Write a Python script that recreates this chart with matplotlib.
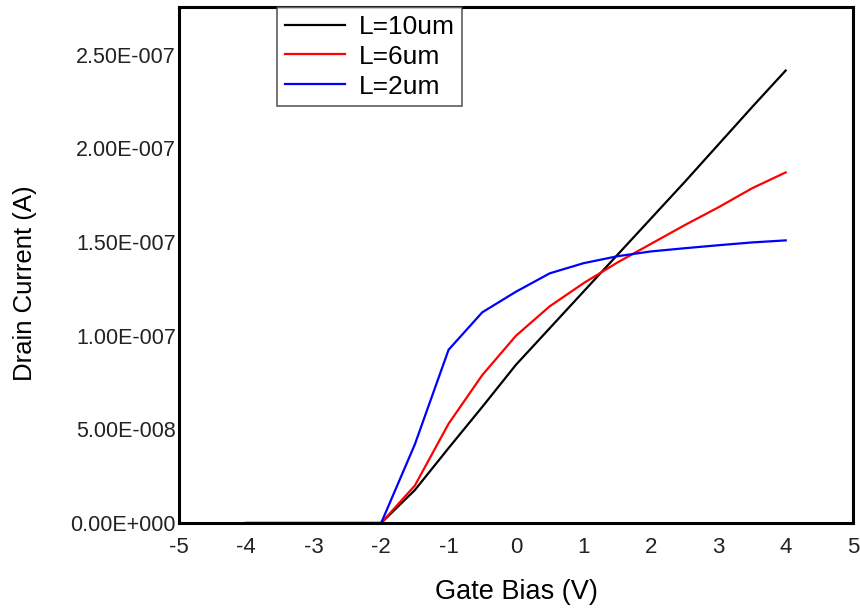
import matplotlib
matplotlib.use("Agg")
import matplotlib.pyplot as plt
from matplotlib.ticker import FuncFormatter

gate_bias = [-4, -3.5, -3, -2.5, -2, -1.5, -1, -0.5, 0, 0.5, 1, 1.5, 2, 2.5, 3, 3.5, 4]
i_10um = [0, 0, 0, 0, 0, 1.76e-8, 4.0e-8, 6.2e-8, 8.45e-8, 1.04e-7, 1.235e-7, 1.43e-7,
          1.625e-7, 1.82e-7, 2.02e-7, 2.22e-7, 2.416e-7]
i_6um = [0, 0, 0, 0, 0, 2.0e-8, 5.3e-8, 7.9e-8, 1.0e-7, 1.157e-7, 1.28e-7, 1.39e-7,
         1.49e-7, 1.59e-7, 1.685e-7, 1.787e-7, 1.872e-7]
i_2um = [0, 0, 0, 0, 0, 4.2e-8, 9.25e-8, 1.125e-7, 1.235e-7, 1.333e-7, 1.387e-7, 1.424e-7,
         1.45e-7, 1.467e-7, 1.483e-7, 1.498e-7, 1.509e-7]
labels = ["L=10um", "L=6um", "L=2um"]
colors = ["#000000", "#ff0000", "#0000ff"]
x_ticks = [-5, -4, -3, -2, -1, 0, 1, 2, 3, 4, 5]
y_ticks = [0, 5e-8, 1e-7, 1.5e-7, 2e-7, 2.5e-7]

plt.rcParams['font.family'] = ['Liberation Sans', 'DejaVu Sans']
plt.rcParams['axes.unicode_minus'] = False

fig = plt.figure(figsize=(8.6, 6.09), dpi=100)
ax = fig.add_axes([0.208, 0.1412, 0.784, 0.8473])

for ys, lab, c in zip([i_10um, i_6um, i_2um], labels, colors):
    ax.plot(gate_bias, ys, color=c, lw=1.6, label=lab)

ax.set_xlim(-5, 5)
ax.set_ylim(0, 2.755e-7)
ax.set_xticks(x_ticks)
ax.set_yticks(y_ticks)

def fmt(v, pos):
    if v == 0:
        return "0.00E+000"
    s = "%.2E" % v
    mant, exp = s.split("E")
    e = int(exp)
    sign = "-" if e < 0 else "+"
    return "%sE%s%03d" % (mant, sign, abs(e))

ax.yaxis.set_major_formatter(FuncFormatter(fmt))
ax.tick_params(axis='both', length=0, labelsize=15.5, colors='#222222')
ax.tick_params(axis='y', pad=2)
ax.tick_params(axis='x', pad=10, labelsize=16)
for sp in ax.spines.values():
    sp.set_linewidth(2.2)
    sp.set_color('black')

ax.set_xlabel("Gate Bias (V)", fontsize=19.5)
ax.set_ylabel("Drain Current (A)", fontsize=18.5)
ax.xaxis.set_label_coords(0.5, -0.108)
ax.yaxis.set_label_coords(-0.2107, 0.465)

leg = ax.legend(loc='upper left', bbox_to_anchor=(0.145, 1.0), borderaxespad=0,
                fontsize=19, frameon=True, fancybox=False, handlelength=2.3,
                labelspacing=0.22, handletextpad=0.5, borderpad=0.3)
leg.get_frame().set_edgecolor('#333333')
leg.get_frame().set_linewidth(1.2)

fig.savefig("out.png", dpi=100)
